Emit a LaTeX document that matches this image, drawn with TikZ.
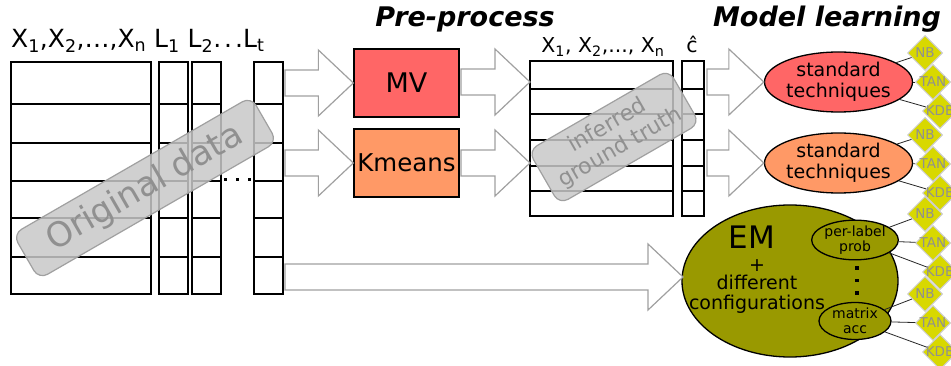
\documentclass[tikz,border=0pt]{standalone}
\usepackage{fontspec}
\setmainfont{DejaVu Sans}
\usetikzlibrary{shapes.geometric,calc}
\definecolor{mvred}{HTML}{FF6666}
\definecolor{kmorange}{HTML}{FF9966}
\definecolor{emolive}{HTML}{999900}
\definecolor{diayel}{HTML}{D8D800}
\definecolor{arrgray}{HTML}{A0A0A0}
\definecolor{stampfill}{HTML}{C8C8C8}
\definecolor{stamptext}{HTML}{909090}
\tikzset{
 tabline/.style={draw=black,line width=1.3pt},
 fatarrow/.style={draw=arrgray,fill=white,line width=1.2pt,line join=miter},
 procbox/.style={draw=black,line width=1.3pt,minimum width=105pt,minimum height=68pt,inner sep=0pt,font=\fontsize{27}{30}\selectfont},
 techell/.style={ellipse,draw=black,line width=1.3pt,minimum width=123pt,minimum height=60pt,inner sep=0pt,align=center,font=\fontsize{19}{21.5}\selectfont},
 subell/.style={ellipse,draw=black,line width=1.3pt,fill=emolive,minimum width=72pt,minimum height=37pt,inner sep=0pt,align=center,font=\fontsize{14}{14.5}\selectfont},
 algo/.style={diamond,fill=diayel,draw=black!20,line width=1pt,minimum width=35pt,minimum height=35pt,inner sep=0pt,text=stamptext,font=\fontsize{13.5}{14}\selectfont},
 link/.style={draw=black!85,line width=0.8pt},
 stamp/.style={rounded corners=10pt,draw=arrgray,line width=1.2pt,fill=stampfill,fill opacity=0.85,text opacity=1,text=stamptext,align=center,inner sep=0pt},
 titletxt/.style={font=\fontsize{27}{30}\selectfont\bfseries\itshape,anchor=base,inner sep=0pt},
 emline/.style={font=\fontsize{19}{20}\selectfont,anchor=base,inner sep=0pt},
}
\newcommand{\fatarr}[2]{\draw[fatarrow] let \p1=(#1),\p2=(#2) in
 (\x1,\y2+13pt) -- (\x2-35pt,\y2+13pt) -- (\x2-35pt,\y2+33pt) -- (\x2,\y2)
 -- (\x2-35pt,\y2-33pt) -- (\x2-35pt,\y2-13pt) -- (\x1,\y2-13pt) -- cycle;}
\begin{document}
\begin{tikzpicture}[x=1pt,y=-1pt]
\useasboundingbox (0,0) rectangle (951,366);
\fill[white] (0,0) rectangle (951,366);
\clip (0,0) rectangle (951,366);
% left table
\foreach \a/\b in {11/151,159/188,192/221,254/283}{
 \draw[tabline] (\a,62) rectangle (\b,294);
 \foreach \y in {104,143,181,218,257} \draw[tabline] (\a,\y) -- (\b,\y);
}
\foreach \x in {225,237,249} \fill (\x-1.5,178) rectangle (\x+1.5,181.5);
\node[anchor=base west,font=\fontsize{25}{30}\selectfont,inner sep=0pt] (lblL) at (11,48)
 {X\textsubscript{1},X\textsubscript{2},…,X\textsubscript{n} L\textsubscript{1} L\textsubscript{2}.\kern3pt.\kern3pt.L\textsubscript{t}};
% middle table
\draw[tabline] (530,61) rectangle (673,216);
\draw[tabline] (682,61) rectangle (704,216);
\foreach \y in {89,114,140,166,191}{
 \draw[tabline] (530,\y) -- (673,\y);
 \draw[tabline] (682,\y) -- (704,\y);
}
\node[anchor=base,font=\fontsize{20.5}{24}\selectfont,inner sep=0pt] (lblM) at (603,53)
 {X\textsubscript{1}, X\textsubscript{2},..., X\textsubscript{n}};
\node[anchor=base,font=\fontsize{20.5}{24}\selectfont,inner sep=0pt] (lblC) at (692,53) {ĉ};
% titles
\node[titletxt] (tpre) at (465,27) {Pre-process};
\node[titletxt] (tmod) at (827,27) {Model learning};
% process boxes
\node[procbox,fill=mvred] (mv) at (406.5,83) {MV};
\node[procbox,fill=kmorange,font=\fontsize{24.5}{28}\selectfont] (km) at (406.5,163) {Kmeans};
% technique ellipses
\node[techell,fill=mvred] (std1) at (838.5,82) {standard\\techniques};
\node[techell,fill=kmorange] (std2) at (838.5,163) {standard\\techniques};
% EM
\node[ellipse,draw=black,line width=1.3pt,fill=emolive,minimum width=216pt,minimum height=152pt,inner sep=0pt] (em) at (790,281) {};
\node[font=\fontsize{31}{32}\selectfont,anchor=base,inner sep=0pt] (emt) at (752,249) {EM};
\node[emline] (emp) at (757,272) {+};
\node[emline] (emd) at (757,290) {different};
\node[emline] (emc) at (757,309) {configurations};
\node[subell] (pl) at (855,240) {per-label\\prob};
\node[subell] (ma) at (855,321) {matrix\\acc};
\foreach \y in {268,280.5,293} \fill (857-1.6,\y-1.6) rectangle (857+1.6,\y+1.6);
% diamonds
\foreach \g/\yy in {1/53,2/135,3/214,4/294}{
 \node[algo] (nb\g) at (925,\yy) {\makebox[0pt]{NB}};
 \node[algo] (tan\g) at (933,\yy+29) {\makebox[0pt]{TAN}};
 \node[algo] (kdb\g) at (940,\yy+58) {\makebox[0pt]{KDB}};
}
\foreach \s/\g in {std1/1,std2/2,pl/3,ma/4}{
 \draw[link] (\s) -- (nb\g);
 \draw[link] (\s) -- (tan\g);
 \draw[link] (\s) -- (kdb\g);
}
% hollow arrows
\coordinate (t1) at (285,83);
\coordinate (t2) at (285,163);
\coordinate (t3) at (461,83);
\coordinate (t4) at (461,163);
\coordinate (mid1) at (530,82);
\coordinate (mid2) at (530,163);
\coordinate (t5) at (707,82);
\coordinate (t6) at (707,163);
\coordinate (t7) at (285,277);
\coordinate (emtip) at (683,277);
\fatarr{t1}{mv.west}
\fatarr{t2}{km.west}
\fatarr{t3}{mid1}
\fatarr{t4}{mid2}
\fatarr{t5}{std1.west}
\fatarr{t6}{std2.west}
\fatarr{t7}{emtip}
% stamps
\node[stamp,rotate=30,minimum width=275pt,minimum height=52pt,font=\fontsize{34}{36}\selectfont] (orig) at (145,188) {Original data};
\node[stamp,rotate=30,minimum width=162pt,minimum height=62pt,font=\fontsize{22}{25}\selectfont] (igt) at (614,137) {inferred\\ground truth};
\end{tikzpicture}
\end{document}
